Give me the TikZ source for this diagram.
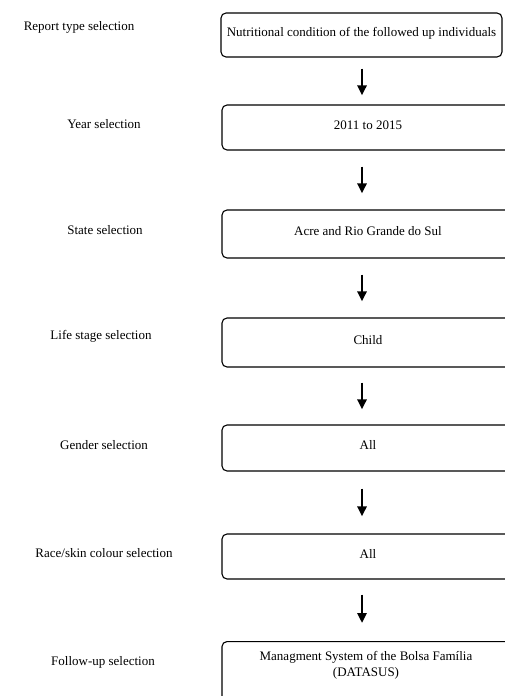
\documentclass[tikz,border=0pt]{standalone}
\usepackage{fontspec}
\setmainfont{Liberation Serif}
\usetikzlibrary{arrows.meta}
\begin{document}
\begin{tikzpicture}[x=1pt,y=-1pt,
  box/.style={draw,line width=1.1pt,rounded corners=5pt,minimum width=292pt,inner sep=0pt,text height=9.5pt,text depth=6pt,font=\fontsize{13}{15}\selectfont},
  lab/.style={font=\fontsize{13}{15}\selectfont,inner sep=0pt},
  txt/.style={font=\fontsize{13}{16}\selectfont,align=center,inner sep=0pt},
  arr/.style={line width=2.6pt,-{Triangle[length=10pt,width=9pt]}}]
\useasboundingbox (0,0) rectangle (505,696);
\clip (0,0) rectangle (505,696);
% boxes
\node[box,minimum width=281pt,minimum height=44pt] (b1) at (361.5,35) {Nutritional condition of the followed up individuals};
\node[box,minimum height=45pt] (b2) at (368,127.5) {2011 to 2015};
\node[box,minimum height=48pt] (b3) at (368,234) {Acre and Rio Grande do Sul};
\node[box,minimum height=49pt] (b4) at (368,342.5) {Child};
\node[box,minimum height=46pt] (b5) at (368,448) {All};
\node[box,minimum height=45pt] (b6) at (368,556.5) {All};
\node[box,minimum height=80pt,anchor=north] (b7) at (368,641) {};
\node[txt] (t7) at (366,665) {Managment System of the Bolsa Família\\(DATASUS)};
% labels
\node[lab] (l1) at (79,27) {Report type selection};
\node[lab] (l2) at (104,124) {Year selection};
\node[lab] (l3) at (105,230) {State selection};
\node[lab] (l4) at (101,336) {Life stage selection};
\node[lab] (l5) at (104,445) {Gender selection};
\node[lab] (l6) at (104,553) {Race/skin colour selection};
\node[lab] (l7) at (103,662) {Follow-up selection};
% arrows
\draw[arr,shorten <=11pt,shorten >=9pt] (b1.south -| 362,0) -- (b2.north -| 362,0);
\draw[arr,shorten <=16pt,shorten >=16pt] (b2.south -| 362,0) -- (b3.north -| 362,0);
\draw[arr,shorten <=16pt,shorten >=16pt] (b3.south -| 362,0) -- (b4.north -| 362,0);
\draw[arr,shorten <=15pt,shorten >=15pt] (b4.south -| 362,0) -- (b5.north -| 362,0);
\draw[arr,shorten <=17pt,shorten >=17pt] (b5.south -| 362,0) -- (b6.north -| 362,0);
\draw[arr,shorten <=15pt,shorten >=18pt] (b6.south -| 362,0) -- (b7.north -| 362,0);
\end{tikzpicture}
\end{document}
